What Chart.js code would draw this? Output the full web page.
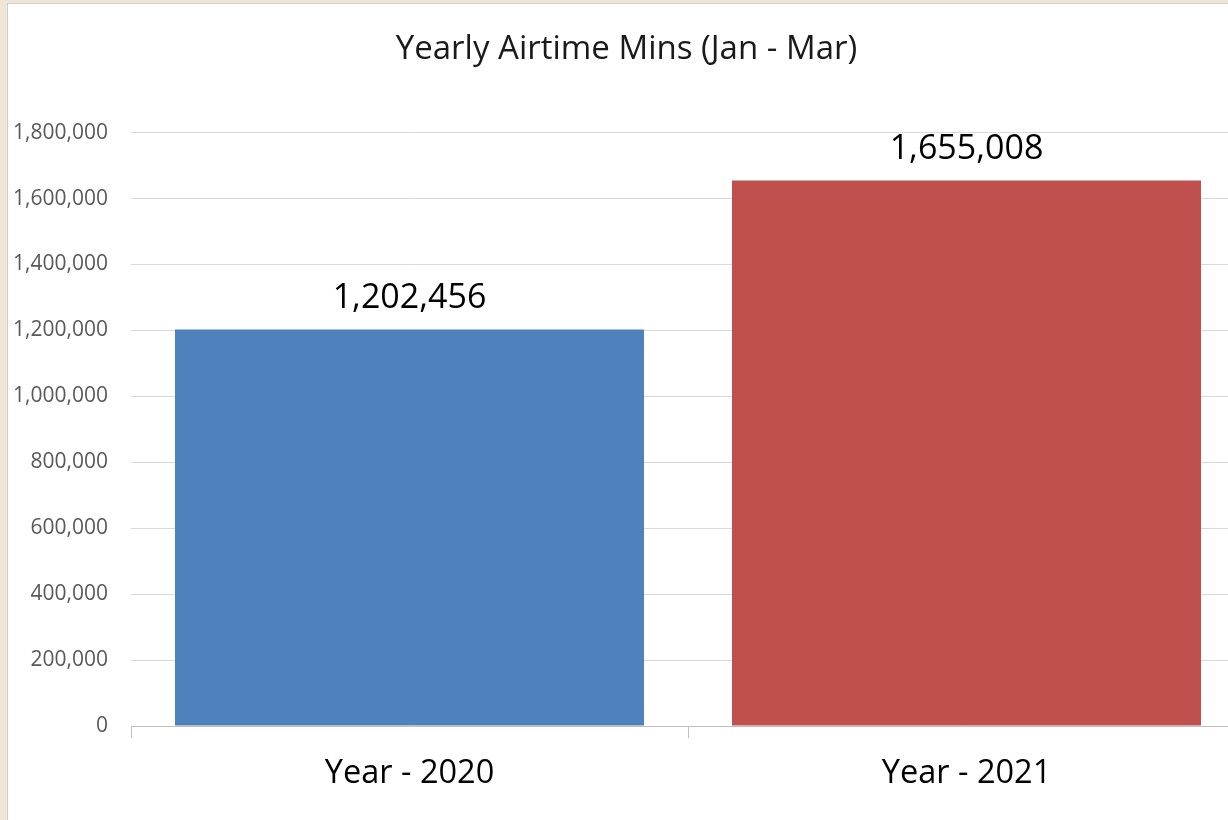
<!DOCTYPE html>
<html>
<head>
<meta charset="utf-8">
<script src="https://cdn.jsdelivr.net/npm/chart.js@4"></script>
<style>
    html, body {
        margin: 0;
        padding: 0;
        width: 1228px;
        height: 820px;
        overflow: hidden;
        background: #efe6d6;
    }
    .pannello {
        position: absolute;
        left: 7px;
        top: 3px;
        width: 1238px;
        height: 816px;
        border: 1px solid #cfcfcf;
        background: #ffffff;
    }
</style>
</head>
<body>
<div class="pannello">
    <canvas id="grafico" width="1238" height="816"></canvas>
</div>
<script>
const categorie = ["Year - 2020", "Year - 2021"];
const minutiAirtime = [1202456, 1655008];
const coloriBarre = ["#4f81bd", "#c0504d"];
const titoloGrafico = "Yearly Airtime Mins (Jan - Mar)";
const asseYMax = 1800000;
const asseYPasso = 200000;

const fmt = v => Number(v).toLocaleString("en-US");

// etichette sopra le barre
const etichetteValori = {
    id: "etichetteValori",
    afterDatasetsDraw(chart) {
        const ctx = chart.ctx;
        const meta = chart.getDatasetMeta(0);
        ctx.save();
        ctx.font = "34px 'Open Sans'";
        ctx.fillStyle = "#000000";
        ctx.textAlign = "center";
        ctx.textBaseline = "middle";
        meta.data.forEach(function (bar, i) {
            ctx.fillText(fmt(chart.data.datasets[0].data[i]), bar.x, bar.y - 31);
        });
        ctx.restore();
    }
};

document.addEventListener("DOMContentLoaded", function () {
    const ctx = document.getElementById("grafico").getContext("2d");
    new Chart(ctx, {
        type: "bar",
        data: {
            labels: categorie,
            datasets: [{
                label: titoloGrafico,
                data: minutiAirtime,
                backgroundColor: coloriBarre,
                borderWidth: 0,
                barPercentage: 0.842,
                categoryPercentage: 1
            }]
        },
        options: {
            responsive: false,
            animation: false,
            layout: { padding: { left: 0, right: 1, top: 0, bottom: 0 } },
            plugins: {
                legend: { display: false },
                tooltip: { enabled: false },
                title: {
                    display: true,
                    text: titoloGrafico,
                    color: "#1a1a1a",
                    font: { family: "'Open Sans'", size: 33, weight: "normal" },
                    padding: { top: 26, bottom: 63 }
                }
            },
            scales: {
                x: {
                    afterFit: s => { s.height = 94; },
                    border: { display: true, color: "#bfbfbf", width: 1 },
                    grid: {
                        drawOnChartArea: false,
                        drawTicks: true,
                        tickLength: 12,
                        color: "#bfbfbf"
                    },
                    ticks: {
                        color: "#000000",
                        padding: 16,
                        font: { family: "'Open Sans'", size: 32.5 }
                    }
                },
                y: {
                    min: 0,
                    max: asseYMax,
                    afterFit: s => { s.width = 123; },
                    border: { display: false },
                    grid: { color: "#d9d9d9", lineWidth: 1, drawTicks: false },
                    ticks: {
                        stepSize: asseYPasso,
                        color: "#595959",
                        padding: 23,
                        font: { family: "'Open Sans'", size: 21 },
                        callback: v => fmt(v)
                    }
                }
            }
        },
        plugins: [etichetteValori]
    });
});
</script>
</body>
</html>
